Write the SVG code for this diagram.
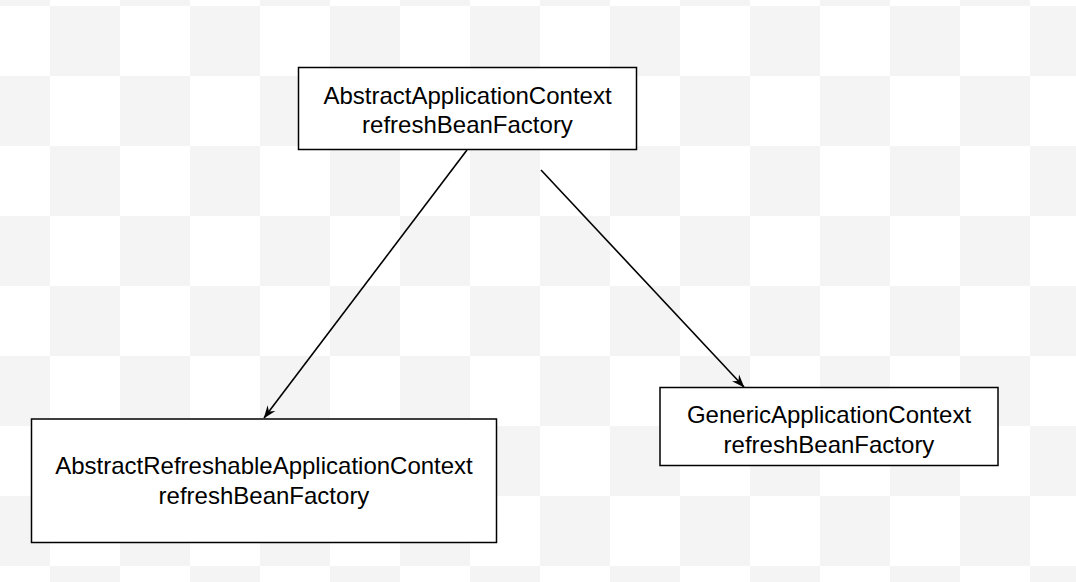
<svg xmlns="http://www.w3.org/2000/svg" width="1076" height="582" viewBox="0 0 1076 582">
<defs>
<pattern id="checker" x="-20" y="6" width="140" height="140" patternUnits="userSpaceOnUse">
<rect x="0" y="0" width="140" height="140" fill="#ffffff"/>
<rect x="70" y="0" width="70" height="70" fill="#f4f4f4"/>
<rect x="0" y="70" width="70" height="70" fill="#f4f4f4"/>
</pattern>
<marker id="arrow" viewBox="0 0 12 10" refX="11.5" refY="5" markerWidth="13" markerHeight="11" markerUnits="userSpaceOnUse" orient="auto">
<path d="M0,0.5 L12,5 L0,9.5 L4,5 Z" fill="#000"/>
</marker>
<style>
.box{fill:#ffffff;stroke:#000;stroke-width:1.5}
.lbl{font-family:"Liberation Sans",Arial,sans-serif;font-size:24px;fill:#000;text-anchor:middle}
.edge{stroke:#000;stroke-width:1.6;fill:none;marker-end:url(#arrow)}
</style>
</defs>
<rect x="0" y="0" width="1076" height="582" fill="url(#checker)"/>
<g id="connectors">
<line class="edge" x1="467" y1="150" x2="264" y2="418"/>
<line class="edge" x1="541" y1="170" x2="744" y2="387"/>
</g>
<g id="node-abstract-application-context">
<rect class="box" x="298.5" y="67.5" width="338" height="82"/>
<text class="lbl" x="467.5" y="103.5">AbstractApplicationContext</text>
<text class="lbl" x="467.5" y="132.5">refreshBeanFactory</text>
</g>
<g id="node-abstract-refreshable-application-context">
<rect class="box" x="31.5" y="419" width="465" height="123.5"/>
<text class="lbl" x="264" y="474">AbstractRefreshableApplicationContext</text>
<text class="lbl" x="264" y="504">refreshBeanFactory</text>
</g>
<g id="node-generic-application-context">
<rect class="box" x="660" y="387.5" width="338" height="78"/>
<text class="lbl" x="829" y="423">GenericApplicationContext</text>
<text class="lbl" x="829" y="453">refreshBeanFactory</text>
</g>
</svg>
